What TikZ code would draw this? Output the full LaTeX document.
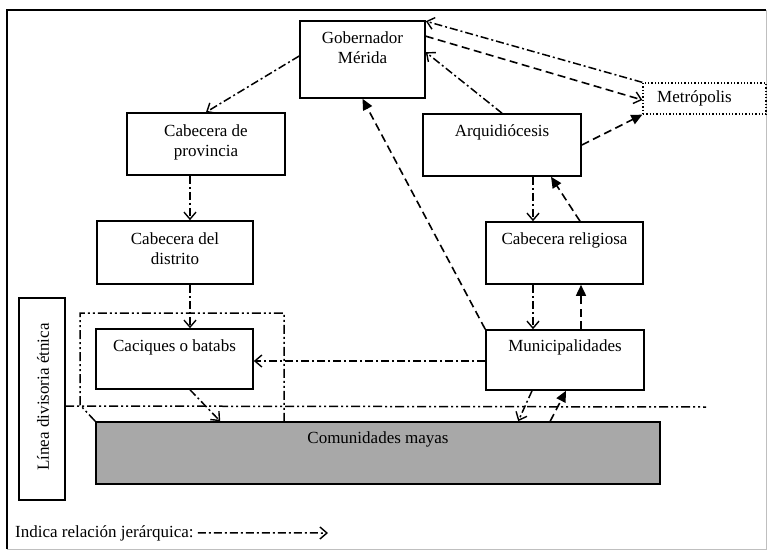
\documentclass[tikz,border=0pt]{standalone}
\usepackage{fontspec}
\setmainfont{Liberation Serif}
\usetikzlibrary{arrows.meta,calc}
\begin{document}
\begin{tikzpicture}[x=1pt,y=-1pt,
  box/.style={draw,line width=1.6pt,inner sep=0pt,minimum width=#1},
  txt/.style={anchor=north,inner sep=0pt,align=center,font=\fontsize{17}{20}\selectfont},
  dd/.style={line width=1.5pt,dash pattern=on 8pt off 3pt on 2pt off 3pt},
  ddd/.style={line width=1.5pt,dash pattern=on 9pt off 3pt on 2pt off 3pt on 2pt off 3pt},
  dsh/.style={line width=1.6pt,dash pattern=on 8pt off 4.5pt},
  openhead/.style={-{Straight Barb[length=7pt,width=12pt,line width=1.4pt]}},
  fillhead/.style={-{Triangle[length=11pt,width=10pt]}},
]
\useasboundingbox (0,0) rectangle (768,551);
% frame
\draw[line width=1.5pt] (7,549) -- (7,10) -- (766,10);
\draw[line width=0.6pt,black!25] (766,10) -- (766,549) -- (7,549);

% boxes
\node[box=125pt,minimum height=77pt] (gob) at (362.5,59.5) {};
\node[box=158pt,minimum height=62pt] (prov) at (206,144) {};
\node[box=156pt,minimum height=63pt] (dist) at (175,252.5) {};
\node[box=158pt,minimum height=62pt] (arq) at (502,145) {};
\node[draw,dotted,line width=1.3pt,inner sep=0pt,minimum width=123pt,minimum height=31pt] (met) at (704.5,98.5) {};
\node[box=157pt,minimum height=62pt] (rel) at (564.5,253) {};
\node[box=158pt,minimum height=60pt] (mun) at (565,360) {};
\node[box=157pt,minimum height=60pt] (cac) at (174.5,359) {};
\node[box=564pt,minimum height=62pt,fill=black!34] (com) at (378,453) {};
\node[box=46pt,minimum height=202pt] (etn) at (42,399) {};

% texts
\node[txt] (tgob) at ($(gob.north)+(0,11)$) {Gobernador\\Mérida};
\node[txt] (tprov) at ($(prov.north)+(0,12)$) {Cabecera de\\provincia};
\node[txt] (tdist) at ($(dist.north)+(0,12)$) {Cabecera del\\distrito};
\node[txt] (tarq) at ($(arq.north)+(0,11)$) {Arquidiócesis};
\node[anchor=center,inner sep=0pt,font=\fontsize{17}{20}\selectfont] (tmet) at ($(met.center)+(-10,0)$) {Metrópolis};
\node[txt] (trel) at ($(rel.north)+(0,11)$) {Cabecera religiosa};
\node[txt] (tmun) at ($(mun.north)+(0,10)$) {Municipalidades};
\node[txt] (tcac) at ($(cac.north)+(0,11)$) {Caciques o batabs};
\node[txt] (tcom) at ($(com.north)+(0,10)$) {Comunidades mayas};
\node[inner sep=0pt,rotate=90,font=\fontsize{17}{20}\selectfont] (tetn) at ($(etn.center)+(1,-2)$) {Línea divisoria étnica};

% enclosure and ethnic dividing line
\coordinate (encBL) at (80,405);
\coordinate (encTL) at (80,313);
\coordinate (encTR) at (284,313);
\coordinate (encBR) at (284,422);
\draw[ddd] (com.north west) -- (encBL) -- (encTL) -- (encTR) -- (encBR);
\coordinate (divL) at (65,406);
\coordinate (divR) at (706,407);
\draw[ddd] (divL) -- (divR);

% connectors
\draw[dd,openhead] ($(gob.west)+(0,-3.5)$) -- (prov.north);
\draw[dd,openhead] ($(prov.south)+(-16,0)$) -- ($(dist.north)+(15,0)$);
\draw[dd,openhead] ($(dist.south)+(15,0)$) -- ($(cac.north)+(15.5,0)$);
\draw[dd,openhead] ($(mun.west)+(0,1)$) -- ($(cac.east)+(0,2)$);
\draw[dd,openhead] ($(cac.south)+(15.5,0)$) -- ($(com.north west)+(125,0)$);
\draw[dd,openhead] ($(mun.south)+(-33,0)$) -- ($(com.north west)+(423,0)$);
\draw[dsh,fillhead] ($(com.north west)+(455,0)$) -- ($(mun.south)+(1,0)$);
\draw[dsh,fillhead] (mun.north west) -- (gob.south);
\draw[dd,openhead] ($(arq.south)+(31,0)$) -- ($(rel.north)+(-31.5,0)$);
\draw[dsh,fillhead] ($(rel.north)+(15.5,0)$) -- ($(arq.south)+(49,0)$);
\draw[dd,openhead] ($(rel.south)+(-31.5,0)$) -- ($(mun.north)+(-32,0)$);
\draw[dsh,fillhead] ($(mun.north)+(16,0)$) -- ($(rel.south)+(16.5,0)$);
\draw[dd,openhead] (arq.north) -- ($(gob.north east)+(0,32)$);
\draw[dsh,fillhead] (arq.east) -- (met.south west);
\draw[dd,openhead] (met.north west) -- ($(gob.north east)+(0,1)$);
\draw[dsh,openhead] ($(gob.north east)+(0,16)$) -- ($(met.west)+(0,1.5)$);

% legend
\node[anchor=base west,inner sep=0pt,font=\fontsize{17}{20}\selectfont] (leg) at (15,537) {Indica relación jerárquica:};
\coordinate (legend end) at (328,533);
\draw[dd,openhead] ($(leg.east)+(4,0)$) -- (legend end);
\end{tikzpicture}
\end{document}
